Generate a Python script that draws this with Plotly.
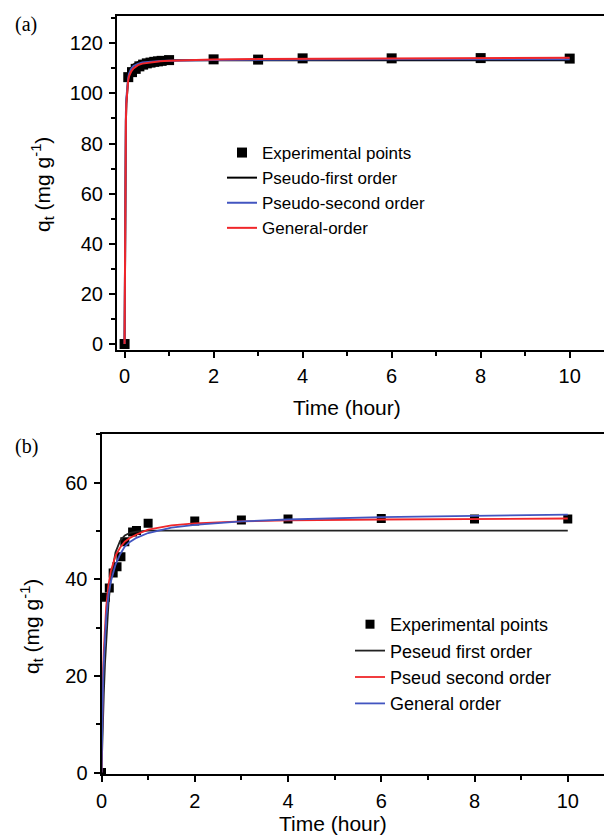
import plotly.graph_objects as go

# ---------------- Panel (a) data ----------------
a_exp_t = [0, 0.083, 0.167, 0.25, 0.333, 0.417, 0.5, 0.583, 0.667, 0.75, 0.833, 1.0, 2, 3, 4, 6, 8, 10]
a_exp_q = [0, 106.5, 108.5, 109.8, 110.8, 111.5, 112.0, 112.3, 112.6, 112.8, 113.0, 113.3, 113.6, 113.5, 114.0, 114.0, 114.1, 113.9]

a_fit_t = [0, 0.005, 0.01, 0.015, 0.02, 0.03, 0.04, 0.06, 0.08, 0.1, 0.15, 0.2, 0.3, 0.4, 0.6, 0.8, 1, 1.5, 2, 3, 4, 6, 8, 10]
a_pfo_q = [0, 28, 49, 64, 76, 89, 96, 102.5, 105.5, 107.5, 110.0, 111.5, 112.5, 112.9, 113.1, 113.2, 113.2, 113.2, 113.2, 113.2, 113.2, 113.2, 113.2, 113.2]
a_pso_q = [0, 30, 52, 68, 80, 92, 98, 103, 106, 107.8, 109.8, 110.9, 111.8, 112.3, 112.7, 112.9, 113.0, 113.2, 113.3, 113.4, 113.5, 113.6, 113.6, 113.6]
a_gen_q = [0, 25, 45, 62, 75, 89, 96, 102, 105, 106.8, 108.8, 110.0, 111.3, 111.9, 112.5, 112.8, 113.0, 113.3, 113.5, 113.7, 113.8, 114.0, 114.1, 114.2]

# ---------------- Panel (b) data ----------------
b_exp_t = [0, 0.083, 0.167, 0.25, 0.333, 0.417, 0.5, 0.667, 0.75, 1.0, 2, 3, 4, 6, 8, 10]
b_exp_q = [0, 36.3, 38.2, 41.3, 42.6, 44.7, 47.8, 49.8, 50.1, 51.6, 52.1, 52.3, 52.5, 52.6, 52.5, 52.5]

b_fit_t = [0, 0.01, 0.02, 0.035, 0.05, 0.075, 0.1, 0.15, 0.2, 0.3, 0.4, 0.5, 0.6, 0.75, 1, 1.5, 2, 3, 4, 6, 8, 10]
b_pfo_q = [0, 3.9, 7.7, 12.9, 16.5, 22.6, 27.5, 35.0, 40.0, 45.6, 48.0, 49.1, 49.6, 49.9, 50.1, 50.1, 50.1, 50.1, 50.1, 50.1, 50.1, 50.1]
b_pso_q = [0, 8.2, 14.3, 21.5, 25.4, 30.6, 34.3, 38.9, 41.7, 44.9, 46.6, 47.8, 48.5, 49.3, 50.3, 51.2, 51.6, 52.0, 52.2, 52.4, 52.5, 52.6]
b_gen_q = [0, 7.0, 12.5, 19.0, 23.0, 28.3, 32.0, 36.8, 39.5, 43.0, 45.2, 46.8, 47.7, 48.6, 49.6, 50.7, 51.3, 52.0, 52.4, 52.9, 53.2, 53.4]

x_ticks = [0, 2, 4, 6, 8, 10]
a_y_ticks = [0, 20, 40, 60, 80, 100, 120]
b_y_ticks = [0, 20, 40, 60]

BLUE = "#4255c0"
RED = "#f0262a"
FONT = "Arial, Liberation Sans, sans-serif"
SERIF = "Liberation Serif, Times New Roman, serif"

fig = go.Figure()

# Panel (a)
fig.add_trace(go.Scatter(x=a_exp_t, y=a_exp_q, mode="markers", name="Experimental points",
                         marker=dict(symbol="square", size=10, color="black"),
                         xaxis="x", yaxis="y", legend="legend"))
fig.add_trace(go.Scatter(x=a_fit_t, y=a_pfo_q, mode="lines", name="Pseudo-first order",
                         line=dict(color="black", width=2), xaxis="x", yaxis="y", legend="legend"))
fig.add_trace(go.Scatter(x=a_fit_t, y=a_pso_q, mode="lines", name="Pseudo-second order",
                         line=dict(color=BLUE, width=2), xaxis="x", yaxis="y", legend="legend"))
fig.add_trace(go.Scatter(x=a_fit_t, y=a_gen_q, mode="lines", name="General-order",
                         line=dict(color=RED, width=2), xaxis="x", yaxis="y", legend="legend"))

# Panel (b)
fig.add_trace(go.Scatter(x=b_exp_t, y=b_exp_q, mode="markers", name="Experimental points",
                         marker=dict(symbol="square", size=9, color="black"),
                         xaxis="x2", yaxis="y2", legend="legend2"))
fig.add_trace(go.Scatter(x=b_fit_t, y=b_pfo_q, mode="lines", name="Peseud first order",
                         line=dict(color="#222222", width=1.8), xaxis="x2", yaxis="y2", legend="legend2"))
fig.add_trace(go.Scatter(x=b_fit_t, y=b_pso_q, mode="lines", name="Pseud second order",
                         line=dict(color=RED, width=1.8), xaxis="x2", yaxis="y2", legend="legend2"))
fig.add_trace(go.Scatter(x=b_fit_t, y=b_gen_q, mode="lines", name="General order",
                         line=dict(color=BLUE, width=1.8), xaxis="x2", yaxis="y2", legend="legend2"))

# figure is slightly wider than the 604 px window so the right side of the frame is cut off
W, H = 620, 837

def px_x(p):
    return p / W

def px_y(p):
    return 1 - p / H

common_axis = dict(showline=True, linecolor="black", linewidth=2, ticks="outside",
                   ticklen=6, tickwidth=1.5, tickcolor="black", showgrid=False, zeroline=False,
                   tickfont=dict(family=FONT, size=20, color="black"), automargin=False)

minor_x = dict(dtick=1, tick0=0, ticks="outside", ticklen=4, tickcolor="black")
minor_y = dict(dtick=10, tick0=0, ticks="outside", ticklen=4, tickcolor="black")

def ann(text, x, y, size, family=FONT, angle=0):
    return dict(text=text, x=px_x(x), y=px_y(y), xref="paper", yref="paper",
                xanchor="center", yanchor="middle", showarrow=False, textangle=angle,
                font=dict(family=family, size=size, color="black"))

fig.update_layout(
    width=W, height=H,
    margin=dict(l=0, r=0, t=0, b=0),
    paper_bgcolor="white", plot_bgcolor="white",
    font=dict(family=FONT, color="black"),
    xaxis=dict(domain=[px_x(117), 1], range=[-0.17, 11.13], anchor="y", mirror=True,
               tickvals=x_ticks, minor=minor_x, ticklabelstandoff=1, **common_axis),
    yaxis=dict(domain=[px_y(350), px_y(16)], range=[-2.4, 130.9], anchor="x",
               tickvals=a_y_ticks, minor=minor_y, ticklabelstandoff=2, **common_axis),
    xaxis2=dict(domain=[px_x(101.5), 1], range=[0, 11.12], anchor="y2", mirror=True,
                tickvals=x_ticks, minor=minor_x, ticklabelstandoff=2, **common_axis),
    yaxis2=dict(domain=[px_y(774), px_y(434)], range=[-0.3, 70.1], anchor="x2",
                tickvals=b_y_ticks, minor=minor_y, ticklabelstandoff=2, **common_axis),
    legend=dict(x=px_x(222), y=px_y(135), xanchor="left", yanchor="top",
                font=dict(family=FONT, size=17, color="black"), bgcolor="rgba(0,0,0,0)",
                tracegroupgap=0, itemwidth=30),
    legend2=dict(x=px_x(350), y=px_y(606), xanchor="left", yanchor="top",
                 font=dict(family=FONT, size=18, color="black"), bgcolor="rgba(0,0,0,0)",
                 tracegroupgap=0, itemwidth=30),
    annotations=[
        ann("(a)", 26, 25, 20, SERIF),
        ann("(b)", 26, 446, 20, SERIF),
        ann("q<sub>t</sub> (mg g<sup>-1</sup>)", 42, 185, 21, angle=-90),
        ann("q<sub>t</sub> (mg g<sup>-1</sup>)", 31, 627, 21, angle=-90),
        ann("Time (hour)", 347, 407, 21),
        ann("Time (hour)", 333, 823, 21),
    ],
)

fig.write_html("out.html", config={"displayModeBar": False},
               post_script="document.body.style.margin='0';document.body.style.overflow='hidden';")
